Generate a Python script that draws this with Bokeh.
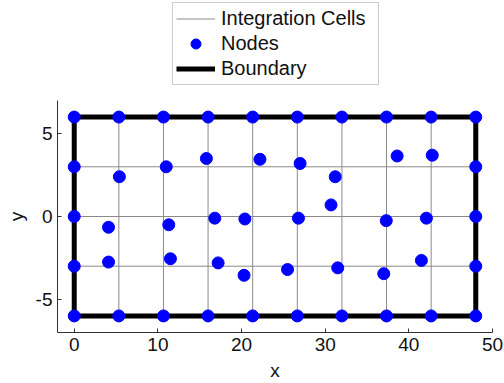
from bokeh.plotting import figure
from bokeh.models import Legend, LegendItem, FixedTicker, PrintfTickFormatter
from bokeh.layouts import column
from bokeh.embed import file_html
from bokeh.resources import INLINE

# Integration cell grid lines
cell_x = [0, 5.333, 10.667, 16, 21.333, 26.667, 32, 37.333, 42.667, 48]
cell_y = [-6, -3, 0, 3, 6]

# Boundary rectangle
boundary_x = [0, 48, 48, 0, 0]
boundary_y = [-6, -6, 6, 6, -6]

# Boundary nodes
bnode_x = [0, 5.333, 10.667, 16, 21.333, 26.667, 32, 37.333, 42.667, 48,
           0, 5.333, 10.667, 16, 21.333, 26.667, 32, 37.333, 42.667, 48,
           0, 0, 0, 48, 48, 48]
bnode_y = [6, 6, 6, 6, 6, 6, 6, 6, 6, 6,
           -6, -6, -6, -6, -6, -6, -6, -6, -6, -6,
           3, 0, -3, 3, 0, -3]

# Interior nodes
inode_x = [5.4, 11.0, 15.8, 22.2, 27.0, 31.2, 38.6, 42.8,
           4.1, 11.3, 16.8, 20.4, 26.8, 30.7, 37.3, 42.1,
           4.1, 11.5, 17.2, 20.3, 25.5, 31.5, 37.0, 41.5]
inode_y = [2.4, 3.0, 3.5, 3.45, 3.2, 2.4, 3.65, 3.7,
           -0.65, -0.5, -0.1, -0.15, -0.1, 0.7, -0.25, -0.1,
           -2.75, -2.55, -2.8, -3.55, -3.2, -3.1, -3.45, -2.65]

x_ticks = [0, 10, 20, 30, 40, 50]
y_ticks = [-5, 0, 5]
legend_labels = ["Integration Cells", "Nodes", "Boundary"]

FONT = "Liberation Sans"
CELL_COLOR = "#8a8a8a"
NODE_COLOR = "#0000ff"

# ---------------- main plot ----------------
p = figure(width=504, height=283, x_range=(-2, 50), y_range=(-7, 7),
           output_backend="svg", toolbar_location=None,
           min_border_left=57, min_border_right=12,
           min_border_top=0, min_border_bottom=50)
p.grid.visible = False
p.outline_line_color = None
p.background_fill_color = "white"
p.border_fill_color = "white"

xs = [[cx, cx] for cx in cell_x] + [[cell_x[0], cell_x[-1]] for _ in cell_y]
ys = [[cell_y[0], cell_y[-1]] for _ in cell_x] + [[cy, cy] for cy in cell_y]
p.multi_line(xs, ys, line_color=CELL_COLOR, line_width=1)

p.line(boundary_x, boundary_y, line_color="black", line_width=5,
       line_join="miter")

all_x = bnode_x + inode_x
all_y = bnode_y + inode_y
p.scatter(all_x, all_y, size=12, fill_color=NODE_COLOR,
          line_color=NODE_COLOR, marker="circle")

for ax in (p.xaxis[0], p.yaxis[0]):
    ax.major_tick_in = 4
    ax.major_tick_out = 0
    ax.minor_tick_line_color = None
    ax.axis_line_color = "#333333"
    ax.major_tick_line_color = "#333333"
    ax.major_label_text_font = FONT
    ax.major_label_text_font_size = "19px"
    ax.major_label_text_color = "#111111"
    ax.axis_label_text_font = FONT
    ax.axis_label_text_font_size = "19px"
    ax.axis_label_text_font_style = "normal"
    ax.axis_label_text_color = "#111111"
    ax.major_label_standoff = 5
    ax.formatter = PrintfTickFormatter(format="%d")

p.xaxis.ticker = FixedTicker(ticks=x_ticks)
p.yaxis.ticker = FixedTicker(ticks=y_ticks)
p.xaxis.axis_label = "x"
p.yaxis.axis_label = "y"
p.xaxis.axis_label_standoff = 6
p.yaxis.axis_label_standoff = 6

# ---------------- legend strip ----------------
# ranges chosen far away so the sample glyphs stay off-screen
lf = figure(width=504, height=100, x_range=(1000, 1001), y_range=(1000, 1001),
            output_backend="svg", toolbar_location=None,
            min_border=0)
lf.axis.visible = False
lf.grid.visible = False
lf.outline_line_color = None
lf.border_fill_color = "white"
lf.background_fill_color = "white"

lr_cells = lf.multi_line(xs=xs[:1], ys=ys[:1], line_color=CELL_COLOR,
                         line_width=1)
lr_nodes = lf.scatter(x=all_x[:1], y=all_y[:1], size=12,
                      fill_color=NODE_COLOR, line_color=NODE_COLOR,
                      marker="circle")
lr_bound = lf.line(x=boundary_x, y=boundary_y, line_color="black",
                   line_width=5)

legend = Legend(items=[
    LegendItem(label=legend_labels[0], renderers=[lr_cells]),
    LegendItem(label=legend_labels[1], renderers=[lr_nodes]),
    LegendItem(label=legend_labels[2], renderers=[lr_bound]),
], location=(115, 15), orientation="vertical")
legend.label_text_font = FONT
legend.label_text_font_size = "20px"
legend.label_text_color = "#111111"
legend.glyph_width = 39
legend.glyph_height = 25
legend.label_height = 25
legend.label_width = 154
legend.label_standoff = 6
legend.spacing = 0
legend.padding = 3
legend.margin = 0
legend.border_line_color = "#999999"
legend.border_line_width = 1
legend.background_fill_alpha = 1
lf.add_layout(legend, "center")

layout = column(lf, p, spacing=0)
open("out.html", "w").write(file_html(layout, INLINE))
